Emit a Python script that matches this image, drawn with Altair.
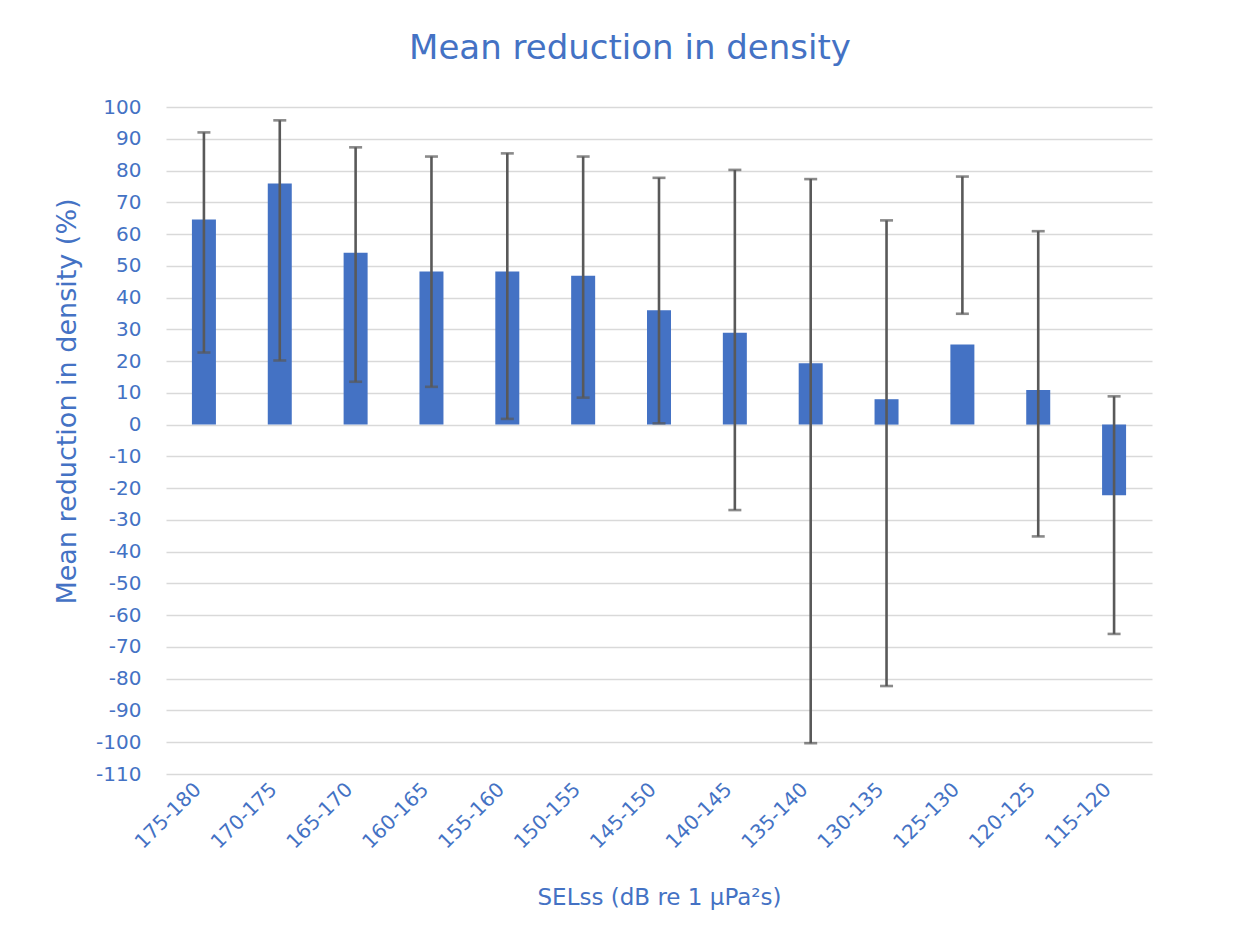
import altair as alt
import pandas as pd

categories = ["175-180", "170-175", "165-170", "160-165", "155-160", "150-155",
              "145-150", "140-145", "135-140", "130-135", "125-130", "120-125", "115-120"]
means = [64.6, 75.9, 54.1, 48.2, 48.2, 46.9, 36.0, 28.9, 19.3, 8.0, 25.2, 10.9, -22.2]
upper = [92.0, 95.8, 87.3, 84.4, 85.4, 84.4, 77.7, 80.2, 77.3, 64.3, 78.1, 60.9, 8.9]
lower = [22.7, 20.2, 13.5, 11.9, 1.8, 8.5, 0.4, -26.9, -100.3, -82.3, 34.9, -35.2, -65.9]
y_ticks = [100, 90, 80, 70, 60, 50, 40, 30, 20, 10, 0, -10, -20, -30, -40, -50,
           -60, -70, -80, -90, -100, -110]

df = pd.DataFrame({"cat": categories, "mean": means, "upper": upper, "lower": lower})

BLUE = "#4472C4"
FONT = "DejaVu Sans"

x_axis = alt.Axis(labelAngle=-45, labelAlign="right", labelBaseline="middle",
                  labelFontSize=20, labelColor=BLUE, labelFont=FONT, labelPadding=12,
                  labelOffset=-6,
                  ticks=False, domain=False, titleFontSize=23, titleColor=BLUE,
                  titleFont=FONT, titleFontWeight="normal", titleY=123,
                  titleBaseline="middle")
y_axis = alt.Axis(values=y_ticks, labelFontSize=20, labelColor=BLUE,
                  labelFont=FONT, labelPadding=25, labelOverlap=False,
                  labelExpr="'' + datum.value",
                  ticks=False, domain=False, gridColor="#d9d9d9",
                  gridWidth=1.6, titleFontSize=27, titleColor=BLUE, titleFont=FONT,
                  titleFontWeight="normal", titleX=-99, titleY=294,
                  titleBaseline="middle", titleAlign="center")

xscale = alt.Scale(paddingInner=0, paddingOuter=0)
yscale = alt.Scale(domain=[-110, 100], nice=False, zero=False)
XT = "SELss (dB re 1 µPa²s)"
YT = "Mean reduction in density (%)"


def xenc():
    return alt.X("cat:N", sort=categories, title=XT, scale=xscale, axis=x_axis)


def yenc(field):
    return alt.Y(field, type="quantitative", scale=yscale, title=YT, axis=y_axis)


bars = alt.Chart(df).mark_bar(size=24, color=BLUE).encode(x=xenc(), y=yenc("mean"))

rules = alt.Chart(df).mark_rule(color="#595959", strokeWidth=2.6).encode(
    x=xenc(), y=yenc("lower"), y2="upper:Q")

cap_hi = alt.Chart(df).mark_tick(color="#595959", size=13, thickness=2.6).encode(
    x=xenc(), y=yenc("upper"))
cap_lo = alt.Chart(df).mark_tick(color="#595959", size=13, thickness=2.6).encode(
    x=xenc(), y=yenc("lower"))

chart = alt.layer(bars, rules, cap_hi, cap_lo).properties(
    width=986, height=667,
    title=alt.TitleParams("Mean reduction in density", fontSize=34, color=BLUE, font=FONT,
                          fontWeight="normal", anchor="middle", frame="group", dx=-29,
                          offset=31),
    autosize=alt.AutoSizeParams(type="none"),
    padding={"left": 158, "top": 99, "right": 90, "bottom": 146},
).configure(background="white").configure_view(stroke=None)

chart.save("out.html", embed_options={"renderer": "svg", "actions": False})
